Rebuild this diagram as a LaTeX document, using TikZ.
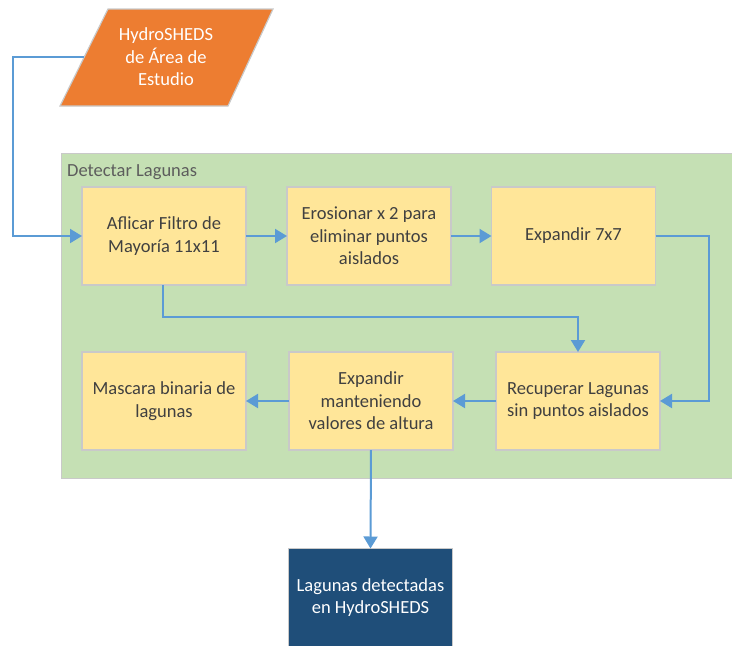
\documentclass[tikz,border=0pt]{standalone}
\usepackage{fontspec}
\setmainfont{Carlito}
\usetikzlibrary{arrows.meta,calc}
\definecolor{boxfill}{HTML}{FFE699}
\definecolor{boxedge}{HTML}{C9C9C9}
\definecolor{grfill}{HTML}{C5E0B4}
\definecolor{orfill}{HTML}{ED7D31}
\definecolor{dkblue}{HTML}{1F4E79}
\definecolor{lnblue}{HTML}{5B9BD5}
\definecolor{txtgray}{HTML}{404040}
\tikzset{
  procbox/.style={draw=boxedge, line width=1.2pt, fill=boxfill, minimum width=164pt, minimum height=98pt,
    inner sep=0pt, outer sep=0pt, align=center, text=txtgray, font=\fontsize{18.5}{22.5}\selectfont},
  outbox/.style={procbox, fill=dkblue, text=white},
  conn/.style={draw=lnblue, line width=2pt, -{Triangle[length=12pt,width=14pt]}},
}
\begin{document}
\begin{tikzpicture}[x=1pt,y=-1pt]
\useasboundingbox (0,0) rectangle (732,646);
\clip (0,0) rectangle (732,646);
% container
\node[draw=boxedge, line width=1.2pt, fill=grfill, minimum width=690pt, minimum height=325pt, inner sep=0pt, anchor=north west] (grp) at (61,153) {};
\node[anchor=base west, text=txtgray!85, font=\fontsize{18.5}{22.5}\selectfont, inner sep=0pt] (grplbl) at (67,176) {Detectar Lagunas};
% source parallelogram
\draw[draw=boxedge, line width=1.2pt, fill=orfill] (108,9) -- (273,9) -- (228,106) -- (60,106) -- cycle;
\node[align=center, text=white, font=\fontsize{18.5}{22.5}\selectfont] (src) at (166,57) {HydroSHEDS\\de Área de\\Estudio};
\coordinate (srcL) at (84,57);
% process boxes
\node[procbox] (b1) at (164,236) {Aflicar Filtro de\\Mayoría 11x11};
\node[procbox] (b2) at (369,236) {Erosionar x 2 para\\eliminar puntos\\aislados};
\node[procbox] (b3) at (573.5,236) {Expandir 7x7};
\node[procbox] (b4) at (164,401) {Mascara binaria de\\lagunas};
\node[procbox] (b5) at (371,401) {Expandir\\manteniendo\\valores de altura};
\node[procbox] (b6) at (578,401) {Recuperar Lagunas\\sin puntos aislados};
\node[outbox] (out) at (370.5,597.5) {Lagunas detectadas\\en HydroSHEDS};
% connectors
\draw[conn] (srcL) -- (13,57) -- (13,236) -- (b1.west);
\draw[conn] (b1) -- (b2);
\draw[conn] (b2) -- (b3);
\draw[conn] (b3.east) -- (709,236) -- (709,401) -- (b6.east);
\draw[conn] (163,285) -- (163,317) -- (578,317) -- (b6.north);
\draw[conn] (b6) -- (b5);
\draw[conn] (b5) -- (b4);
\draw[conn] (b5.south) -- (out.north);
\end{tikzpicture}
\end{document}
